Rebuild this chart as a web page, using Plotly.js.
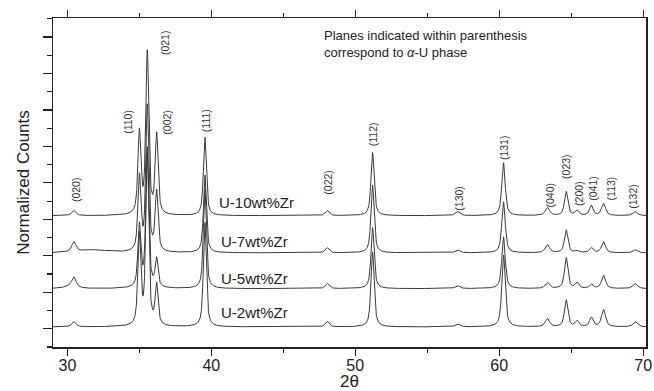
<!DOCTYPE html>
<html>
<head>
<meta charset="utf-8">
<script src="https://cdn.plot.ly/plotly-3.0.1.min.js"></script>
<style>html,body{margin:0;padding:0;background:#fff}#chart{width:654px;height:391px}</style>
</head>
<body>
<div id="chart"></div>
<script>
// Reflection positions (2-theta, degrees) and hkl labels of alpha-U
const peakPos   = [30.45, 35.0, 35.55, 36.2, 39.55, 48.05, 51.2, 57.1, 60.3, 63.35, 64.65, 65.4, 66.4, 67.25, 69.45];
const peakHkl   = ["(020)","(110)","(021)","(002)","(111)","(022)","(112)","(130)","(131)","(040)","(023)","(200)","(041)","(113)","(132)"];
const peakHwhm  = [0.18, 0.12, 0.12, 0.12, 0.12, 0.16, 0.13, 0.19, 0.14, 0.18, 0.14, 0.15, 0.15, 0.17, 0.19];

// Series (normalized counts, offset stacked)
const seriesNames = ["U-10wt%Zr", "U-7wt%Zr", "U-5wt%Zr", "U-2wt%Zr"];
const baselines   = [4.10, 3.08, 2.10, 1.05];
const hU10 = [0.14, 2.25, 4.45, 2.18, 2.16, 0.14, 1.73, 0.11, 1.45, 0.22, 0.66, 0.14, 0.27, 0.33, 0.11];
const hU7  = [0.27, 2.05, 4.00, 1.64, 2.14, 0.14, 1.86, 0.08, 1.40, 0.22, 0.63, 0.05, 0.14, 0.30, 0.08];
const hU5  = [0.27, 1.70, 3.84, 0.77, 2.74, 0.14, 1.67, 0.08, 1.42, 0.16, 0.85, 0.16, 0.11, 0.36, 0.14];
const hU2  = [0.14, 2.47, 4.70, 1.10, 2.88, 0.16, 2.05, 0.08, 1.97, 0.22, 0.74, 0.16, 0.25, 0.47, 0.14];
const heights = [hU10, hU7, hU5, hU2];

// Broad humps in background (position, height, hwhm) per series
const humpU7 = [31.8, 0.08, 1.2];
const humpU5 = [30.2, 0.06, 0.5];
const humps = [null, humpU7, humpU5, null];

// Series label placement (2-theta, normalized counts)
const labelX = [40.4, 40.5, 40.5, 40.5];
const labelY = [4.47, 3.38, 2.37, 1.44];

// hkl label placement
const hklX = [30.55, 34.2, 36.8, 36.9, 39.65, 48.1, 51.25, 57.2, 60.35, 63.5, 64.65, 65.55, 66.5, 67.8, 69.3];
const hklY = [4.81, 6.67, 8.84, 6.67, 6.70, 5.03, 6.34, 4.59, 5.96, 4.67, 5.44, 4.70, 4.86, 4.86, 4.62];

const xTicks = [30, 40, 50, 60, 70];

function profile(x, c, h, w) {
  const d = (x - c) / w;
  const L = 1 / (1 + d * d);
  const G = Math.exp(-Math.LN2 * d * d);
  return h * (0.7 * L + 0.3 * G);
}

const xs = [];
for (let t = 29.0; t <= 70.2001; t += 0.02) xs.push(+t.toFixed(3));

const traces = heights.map((hs, k) => {
  const ys = xs.map(x => {
    let y = baselines[k];
    for (let i = 0; i < peakPos.length; i++) y += profile(x, peakPos[i], hs[i], peakHwhm[i]);
    if (humps[k]) y += profile(x, humps[k][0], humps[k][1], humps[k][2]);
    return y;
  });
  return {x: xs, y: ys, type: 'scatter', mode: 'lines', name: seriesNames[k],
          line: {color: '#3a3a3a', width: 1}, hoverinfo: 'skip'};
});

const annotations = [];
peakHkl.forEach((t, i) => annotations.push({
  x: hklX[i], y: hklY[i], xref: 'x', yref: 'y', text: t, textangle: -90,
  showarrow: false, font: {family: 'Liberation Sans, Arial, sans-serif', size: 10.5, color: '#333'}
}));
seriesNames.forEach((t, i) => annotations.push({
  x: labelX[i], y: labelY[i], xref: 'x', yref: 'y', text: t, xanchor: 'left',
  showarrow: false, font: {family: 'Liberation Sans, Arial, sans-serif', size: 15, color: '#222'}
}));
annotations.push({
  x: 47.7, y: 8.8, xref: 'x', yref: 'y', xanchor: 'left', yanchor: 'middle', align: 'left',
  text: 'Planes indicated within parenthesis<br>correspond to <i>α</i>-U phase', showarrow: false,
  font: {family: 'Liberation Sans, Arial, sans-serif', size: 13, color: '#222'}
});

const layout = {
  width: 654, height: 391,
  margin: {l: 53, r: 8, t: 18, b: 44},
  paper_bgcolor: '#fff', plot_bgcolor: '#fff',
  showlegend: false,
  font: {family: 'Liberation Sans, Arial, sans-serif', color: '#222'},
  xaxis: {
    range: [29.0, 70.2], tickvals: xTicks, ticktext: xTicks.map(String),
    ticks: 'outside', ticklen: 7, tickwidth: 1.2, tickcolor: '#222',
    minor: {dtick: 5, tick0: 30, ticks: 'outside', ticklen: 4, tickcolor: '#222'},
    showline: true, linecolor: '#222', linewidth: 1.5, mirror: 'ticks',
    showgrid: false, zeroline: false, automargin: false,
    tickfont: {size: 16, color: '#222'}, ticklabelstandoff: -4,
    title: {text: '2θ', font: {size: 17, color: '#222'}, standoff: 0}
  },
  yaxis: {
    range: [0.5, 9.52], tick0: 1, dtick: 1, showticklabels: false,
    ticks: 'outside', ticklen: 9, tickwidth: 1.2, tickcolor: '#222',
    minor: {dtick: 0.5, tick0: 0.5, ticks: 'outside', ticklen: 5, tickcolor: '#222'},
    showline: true, linecolor: '#222', linewidth: 1.5, mirror: true,
    showgrid: false, zeroline: false,
    title: {text: 'Normalized Counts', font: {size: 17, color: '#222'}, standoff: 8}
  },
  annotations: annotations
};

Plotly.newPlot('chart', traces, layout, {staticPlot: true, displayModeBar: false});
</script>
</body>
</html>
